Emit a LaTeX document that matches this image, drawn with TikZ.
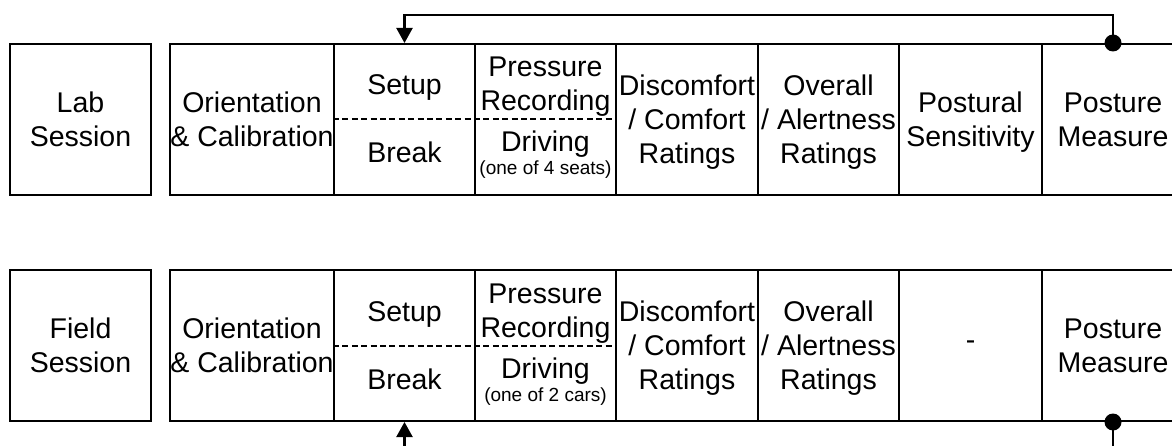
\documentclass[tikz,border=0pt]{standalone}
\usepackage{fontspec}
\setmainfont{Liberation Sans}
\usetikzlibrary{arrows.meta,calc}

\tikzset{
  big/.style={font=\fontsize{28.5pt}{34pt}\selectfont},
  small/.style={font=\fontsize{19pt}{22pt}\selectfont},
  cell/.style={draw, rectangle, line width=2pt, inner sep=0pt,
    minimum width=141pt, minimum height=151pt, align=center,
    text depth=0pt, big},
  line/.style={anchor=base, inner sep=0pt, big},
  note/.style={anchor=base, inner sep=0pt, small},
  split/.style={line width=2pt, dash pattern=on 6pt off 3.4pt},
  conn/.style={line width=2.2pt},
  tip/.style={-{Triangle[width=16pt,length=15pt]}},
  dot/.style={circle, fill, inner sep=0pt, minimum size=17pt},
}

% one session row: #1 name prefix, #2 session title, #3 vehicle note, #4 sensitivity cell
\newcommand\sessionrow[4]{%
  \node[cell] (#1title) at (80.5,119.5) {#2};
  \node[cell, minimum width=164pt] (#1ori) at (252,119.5) {Orientation\\\& Calibration};
  \node[cell] (#1setup) at (404.5,119.5) {};
  \node[cell] (#1press) at (545.5,119.5) {};
  \node[cell, minimum width=142pt] (#1disc) at (687,119.5) {Discomfort\\/ Comfort\\Ratings};
  \node[cell] (#1alert) at (828.5,119.5) {Overall\\/ Alertness\\Ratings};
  \node[cell, minimum width=143pt] (#1sens) at (970.5,119.5) {#4};
  \node[cell, minimum width=142pt] (#1post) at (1113,119.5) {Posture\\Measure};
  \draw[split] (#1setup.west) -- (#1press.east);
  \node[line] (#1setuptxt) at (404.5,95) {Setup};
  \node[line] (#1breaktxt) at (404.5,163) {Break};
  \node[line] (#1presstxt) at (545.5,77) {Pressure};
  \node[line] (#1rectxt) at (545.5,111) {Recording};
  \node[line] (#1drivetxt) at (545.5,152) {Driving};
  \node[note] (#1notetxt) at (545.5,175) {#3};
}

\begin{document}
\begin{tikzpicture}[x=1pt, y=-1pt]
  \useasboundingbox (0,0) rectangle (1172,446);
  \clip (0,0) rectangle (1172,446);

  \sessionrow{lab}{Lab\\Session}{(one of 4 seats)}{Postural\\Sensitivity}
  \begin{scope}[yshift=-226pt]
    \sessionrow{field}{Field\\Session}{(one of 2 cars)}{-}
  \end{scope}

  % feedback loop of the lab session
  \draw[conn, tip] (labpost.north) -- ++(0,-28) -| (labsetup.north);
  \node[dot] (labdot) at (labpost.north) {};

  % entry and exit of the field session
  \coordinate (fieldin) at ($(fieldsetup.south)+(0,40)$);
  \coordinate (fieldout) at ($(fieldpost.south)+(0,40)$);
  \draw[conn, tip] (fieldin) -- (fieldsetup.south);
  \draw[conn] (fieldpost.south) -- (fieldout);
  \node[dot] (fielddot) at (fieldpost.south) {};
\end{tikzpicture}
\end{document}
